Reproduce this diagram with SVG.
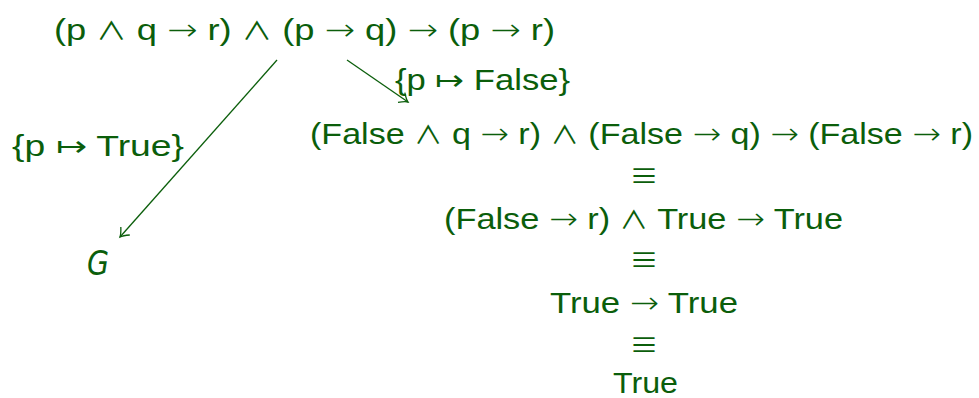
<svg xmlns="http://www.w3.org/2000/svg" width="979" height="398" viewBox="0 0 979 398">
<defs>
<style>
text { font-family: "Liberation Sans", "DejaVu Sans", sans-serif; font-size: 30px; fill: #0b5e0b; }
.s { font-family: "DejaVu Sans", sans-serif; font-weight: 200; }
.w { font-family: "Noto Sans CJK JP", "DejaVu Sans", sans-serif; font-weight: 400; font-size: 25px; }
.eq { font-family: "Noto Sans CJK JP", "DejaVu Sans", sans-serif; font-weight: 400; font-size: 29px; text-anchor: middle; }
.it { font-family: "DejaVu Sans", sans-serif; font-style: oblique; font-size: 33px; }
.edge { stroke: #0b5e0b; stroke-width: 1.3; fill: none; }
</style>
<marker id="arr" markerUnits="userSpaceOnUse" markerWidth="16" markerHeight="16" viewBox="-10 -8 12 16" refX="0" refY="0" orient="auto">
<path d="M -8,-6 Q -3,-1.2 0,0 Q -3,1.2 -8,6" stroke="#0b5e0b" stroke-width="1.3" fill="none"/>
</marker>
</defs>
<rect width="979" height="398" fill="#ffffff"/>
<g id="connectors">
<line class="edge" x1="277" y1="60" x2="120" y2="237" marker-end="url(#arr)"/>
<line class="edge" x1="347" y1="60" x2="408" y2="102" marker-end="url(#arr)"/>
</g>
<g id="labels">
<text x="12" y="156" textLength="172" lengthAdjust="spacingAndGlyphs">{p <tspan class="s">↦</tspan> True}</text>
<text x="395" y="90" textLength="175" lengthAdjust="spacingAndGlyphs">{p <tspan class="s">↦</tspan> False}</text>
</g>
<g id="root">
<text x="54" y="40" textLength="501" lengthAdjust="spacingAndGlyphs">(p <tspan class="w">∧</tspan> q <tspan class="s">→</tspan> r) <tspan class="w">∧</tspan> (p <tspan class="s">→</tspan> q) <tspan class="s">→</tspan> (p <tspan class="s">→</tspan> r)</text>
</g>
<g id="G">
<text class="it" x="87" y="275" textLength="22" lengthAdjust="spacingAndGlyphs">G</text>
</g>
<g id="chain">
<text x="310" y="144" textLength="663" lengthAdjust="spacingAndGlyphs">(False <tspan class="w">∧</tspan> q <tspan class="s">→</tspan> r) <tspan class="w">∧</tspan> (False <tspan class="s">→</tspan> q) <tspan class="s">→</tspan> (False <tspan class="s">→</tspan> r)</text>
<text class="eq" x="644" y="187">≡</text>
<text x="444" y="229" textLength="399" lengthAdjust="spacingAndGlyphs">(False <tspan class="s">→</tspan> r) <tspan class="w">∧</tspan> True <tspan class="s">→</tspan> True</text>
<text class="eq" x="644" y="271">≡</text>
<text x="550" y="313" textLength="188" lengthAdjust="spacingAndGlyphs">True <tspan class="s">→</tspan> True</text>
<text class="eq" x="644" y="356">≡</text>
<text x="613" y="393" textLength="65" lengthAdjust="spacingAndGlyphs">True</text>
</g>
</svg>
